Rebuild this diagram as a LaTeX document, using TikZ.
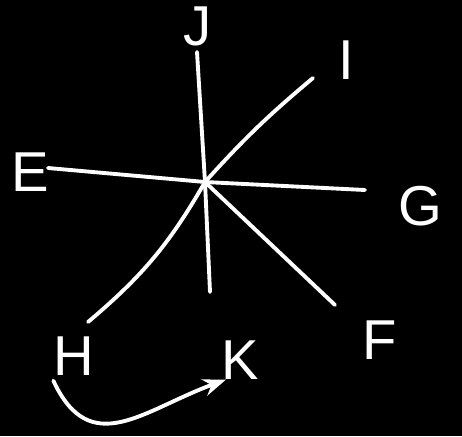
\documentclass[tikz,border=0pt]{standalone}
\usepackage{fontspec}
\setmainfont{Liberation Sans}
\usetikzlibrary{arrows.meta, positioning, backgrounds}

\begin{document}
\begin{tikzpicture}[x=0.02cm, y=-0.02cm, >=Stealth,
    spoke/.style={draw=white, line width=2.2pt, line cap=round},
    lbl/.style={text=white, font=\fontsize{32}{34}\selectfont, inner sep=0pt}]
    % canvas
    \fill[black] (0,0) rectangle (462,436);
    \useasboundingbox (0,0) rectangle (462,436);

    % centre
    \coordinate (O) at (205,182);

    % labels
    \node[lbl] (J) at (198,26) {J};
    \node[lbl] (I) at (346,60) {I};
    \node[lbl] (G) at (420,206) {G};
    \node[lbl] (F) at (380,340) {F};
    \node[lbl] (K) at (240,360) {K};
    \node[lbl] (H) at (74,356) {H};
    \node[lbl] (E) at (30,172) {E};

    % spoke ends
    \coordinate (Jend) at (197,52);
    \coordinate (Iend) at (313,78);
    \coordinate (Gend) at (365,190);
    \coordinate (Fend) at (335,305);
    \coordinate (Kend) at (210,292);
    \coordinate (Hend) at (88,322);
    \coordinate (Eend) at (48,168);

    % spokes
    \draw[spoke] (O) to[bend left=4] (Iend);
    \draw[spoke] (O) -- (Jend);
    \draw[spoke] (O) -- (Gend);
    \draw[spoke] (O) -- (Fend);
    \draw[spoke] (O) -- (Kend);
    \draw[spoke] (O) to[bend left=10] (Hend);
    \draw[spoke] (O) -- (Eend);

    % H to K
    \draw[spoke, ->] ([yshift=-0.1cm]H.south west) to[out=-65, in=200, looseness=1.3] ([xshift=0.1cm]K.south west);
\end{tikzpicture}
\end{document}
